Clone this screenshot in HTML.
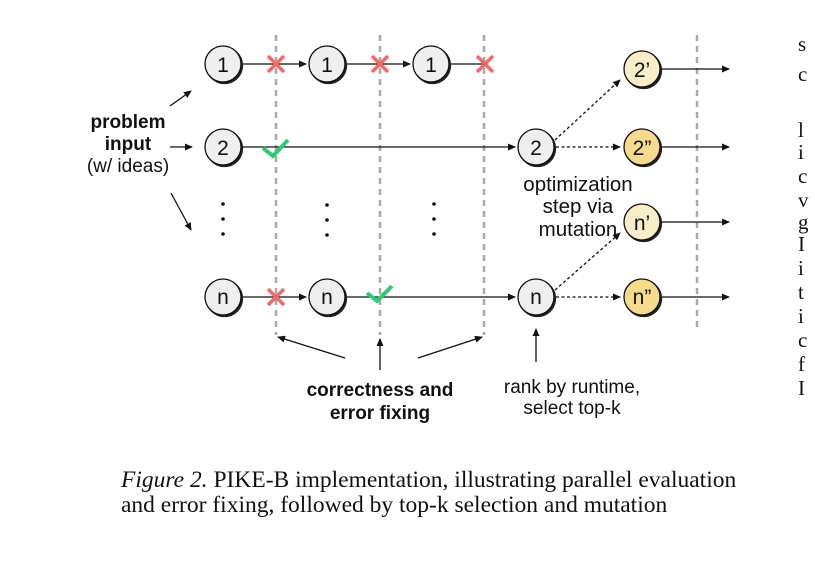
<!DOCTYPE html><html><head><style>body{margin:0;background:#fff;width:815px;height:562px;overflow:hidden;position:relative}
svg{position:absolute;left:0;top:0}
.cap{position:absolute;left:121px;font-family:"Liberation Serif",serif;font-size:23.5px;color:#111;white-space:nowrap;line-height:25px}
.rc{position:absolute;left:798px;font-family:"Liberation Serif",serif;font-size:21px;color:#111}
</style></head><body>
<svg width="815" height="562" font-family="Liberation Sans, sans-serif">
<defs><marker id="a" markerWidth="8" markerHeight="8" refX="7" refY="4" orient="auto" markerUnits="userSpaceOnUse"><path d="M0,0.5L8,4L0,7.5z" fill="#111"/></marker>
<filter id="s"><feDropShadow dx="1.5" dy="1.5" stdDeviation="0" flood-color="#222"/></filter></defs>
<g stroke="#aaa" stroke-width="2.5" stroke-dasharray="6,5">
<line x1="276" y1="35" x2="276" y2="335"/><line x1="380" y1="35" x2="380" y2="335"/><line x1="484" y1="35" x2="484" y2="335"/><line x1="697" y1="35" x2="697" y2="330"/></g>
<g stroke="#111" stroke-width="1.3" fill="none">
<line x1="242" y1="64" x2="306" y2="64" marker-end="url(#a)"/><line x1="346" y1="64" x2="410" y2="64" marker-end="url(#a)"/><line x1="450" y1="64" x2="486" y2="64"/>
<line x1="242" y1="147" x2="515" y2="147" marker-end="url(#a)"/>
<line x1="242" y1="297" x2="306" y2="297" marker-end="url(#a)"/><line x1="346" y1="297" x2="515" y2="297" marker-end="url(#a)"/>
<line x1="170" y1="106" x2="191" y2="91" marker-end="url(#a)"/><line x1="170" y1="147" x2="192" y2="147" marker-end="url(#a)"/><line x1="171" y1="193" x2="191" y2="230" marker-end="url(#a)"/>
<g stroke-dasharray="3,2.5"><line x1="555" y1="140" x2="620" y2="80" marker-end="url(#a)"/><line x1="556" y1="147" x2="620" y2="147" marker-end="url(#a)"/><line x1="555" y1="290" x2="620" y2="233" marker-end="url(#a)"/><line x1="556" y1="297" x2="620" y2="297" marker-end="url(#a)"/></g>
<line x1="661" y1="69" x2="729" y2="69" marker-end="url(#a)"/><line x1="661" y1="147" x2="729" y2="147" marker-end="url(#a)"/><line x1="661" y1="222" x2="729" y2="222" marker-end="url(#a)"/><line x1="661" y1="297" x2="729" y2="297" marker-end="url(#a)"/>
<line x1="380" y1="370" x2="380" y2="339" marker-end="url(#a)"/><line x1="345" y1="358" x2="278" y2="337" marker-end="url(#a)"/><line x1="418" y1="358" x2="482" y2="337" marker-end="url(#a)"/><line x1="536" y1="362" x2="536" y2="329" marker-end="url(#a)"/>
</g>
<g stroke="#111" stroke-width="1.3" filter="url(#s)">
<g fill="#efefef"><circle cx="223" cy="64" r="18"/><circle cx="327" cy="64" r="18"/><circle cx="431" cy="64" r="18"/><circle cx="223" cy="147" r="18"/><circle cx="223" cy="297" r="18"/><circle cx="327" cy="297" r="18"/><circle cx="536" cy="147" r="18"/><circle cx="536" cy="297" r="18"/></g>
<g fill="#faeec8"><circle cx="642" cy="69" r="18"/><circle cx="642" cy="222" r="18"/></g>
<g fill="#f6db8c"><circle cx="642" cy="147" r="18"/><circle cx="642" cy="297" r="18"/></g></g>
<g font-size="21" text-anchor="middle" fill="#111"><text x="223" y="72">1</text><text x="327" y="72">1</text><text x="431" y="72">1</text><text x="223" y="155">2</text><text x="223" y="304">n</text><text x="327" y="304">n</text><text x="536" y="155">2</text><text x="536" y="304">n</text><text x="642" y="77">2’</text><text x="642" y="155">2”</text><text x="642" y="230">n’</text><text x="642" y="304">n”</text></g>
<g stroke="#f06a6a" stroke-width="3.5"><path d="M268,56L284,72M284,56L268,72M372,56L388,72M388,56L372,72M477,56L493,72M493,56L477,72M268,289L284,305M284,289L268,305"/></g>
<g stroke="#2ecc71" stroke-width="4" fill="none"><path d="M263,148L273,156L288,140M367,293L377,301L392,286"/></g>
<g fill="#111"><circle cx="223" cy="204" r="1.8"/><circle cx="223" cy="219" r="1.8"/><circle cx="223" cy="234" r="1.8"/><circle cx="327" cy="205" r="1.8"/><circle cx="327" cy="220" r="1.8"/><circle cx="327" cy="235" r="1.8"/><circle cx="434" cy="204" r="1.8"/><circle cx="434" cy="219" r="1.8"/><circle cx="434" cy="234" r="1.8"/></g>
<g font-size="19" text-anchor="middle" fill="#111"><text x="128" y="128" font-weight="bold">problem</text><text x="128" y="150" font-weight="bold">input</text><text x="128" y="172">(w/ ideas)</text>
<text x="380" y="396" font-weight="bold">correctness and</text><text x="380" y="419" font-weight="bold">error fixing</text>
<text x="578" y="191" font-size="20.5">optimization</text><text x="578" y="213" font-size="20.5">step via</text><text x="578" y="236" font-size="20.5">mutation</text>
<text x="572" y="393" font-size="19">rank by runtime,</text><text x="572" y="414" font-size="19">select top-k</text></g>
</svg>
<div class="cap" style="top:468px"><i>Figure 2.</i> PIKE-B implementation, illustrating parallel evaluation</div>
<div class="cap" style="top:493px">and error fixing, followed by top-k selection and mutation</div>
<div class="rc" style="top:32px">s</div><div class="rc" style="top:62px">c</div><div class="rc" style="top:118px">l</div><div class="rc" style="top:140px">i</div><div class="rc" style="top:164px">c</div><div class="rc" style="top:188px">v</div><div class="rc" style="top:210px">g</div><div class="rc" style="top:232px">I</div><div class="rc" style="top:256px">i</div><div class="rc" style="top:280px">t</div><div class="rc" style="top:304px">i</div><div class="rc" style="top:328px">c</div><div class="rc" style="top:352px">f</div><div class="rc" style="top:376px">I</div>
</body></html>
